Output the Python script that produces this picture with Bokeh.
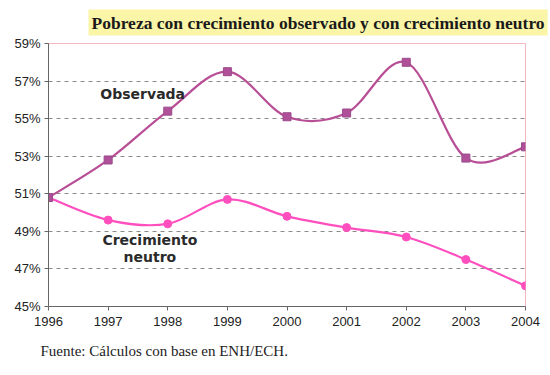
from bokeh.plotting import figure
from bokeh.models import (FixedTicker, PrintfTickFormatter, Range1d, Label, Title,
                          ColumnDataSource)
from bokeh.embed import file_html
from bokeh.resources import INLINE

years = [1996, 1997, 1998, 1999, 2000, 2001, 2002, 2003, 2004]
observada = [50.8, 52.8, 55.4, 57.5, 55.1, 55.3, 58.0, 52.9, 53.5]
neutro = [50.8, 49.6, 49.4, 50.7, 49.8, 49.2, 48.7, 47.5, 46.1]
y_ticks = [45, 47, 49, 51, 53, 55, 57, 59]

TITLE = "Pobreza con crecimiento observado y con crecimiento neutro"
SOURCE = "Fuente: Cálculos con base en ENH/ECH."

C_OBS = "#B84F96"
C_NEU = "#FF4FBF"


def smooth_segments(xs, ys):
    """Bezier control points for a smoothed line through the given points."""
    n = len(xs)
    x0, y0, x1, y1, cx0, cy0, cx1, cy1 = ([] for _ in range(8))
    for i in range(n - 1):
        xm, ym = (xs[i - 1], ys[i - 1]) if i > 0 else (xs[i], ys[i])
        xp, yp = (xs[i + 2], ys[i + 2]) if i + 2 < n else (xs[i + 1], ys[i + 1])
        x0.append(xs[i]); y0.append(ys[i])
        x1.append(xs[i + 1]); y1.append(ys[i + 1])
        cx0.append(xs[i] + (xs[i + 1] - xm) / 6.0)
        cy0.append(ys[i] + (ys[i + 1] - ym) / 6.0)
        cx1.append(xs[i + 1] - (xp - xs[i]) / 6.0)
        cy1.append(ys[i + 1] - (yp - ys[i]) / 6.0)
    return ColumnDataSource(dict(x0=x0, y0=y0, x1=x1, y1=y1,
                                 cx0=cx0, cy0=cy0, cx1=cx1, cy1=cy1))


p = figure(width=550, height=375, output_backend="svg", toolbar_location=None,
           x_range=Range1d(1996, 2004), y_range=Range1d(45, 59),
           min_border_left=48, min_border_right=25, min_border_top=43,
           min_border_bottom=69)

p.title.text = TITLE
p.title.text_font = "Liberation Serif"
p.title.text_font_size = "17.5px"
p.title.text_font_style = "bold"
p.title.text_color = "#1a1a1a"
p.title.align = "left"
p.title.offset = 40
p.title.vertical_align = "top"
p.title.background_fill_color = "#FBF5A8"
p.title.padding = 3
p.title.standoff = 12

cap = Title(text=SOURCE, align="left", text_font="Liberation Serif",
            text_font_size="15px", text_font_style="normal", text_color="#222222",
            offset=-8, standoff=24)
p.add_layout(cap, "below")

p.background_fill_color = "white"
p.border_fill_color = "white"
p.outline_line_color = "#F4B8BE"
p.outline_line_width = 1

# grid
p.xgrid.grid_line_color = None
p.ygrid.ticker = FixedTicker(ticks=y_ticks[1:-1])
p.ygrid.grid_line_color = "#8a8a8a"
p.ygrid.grid_line_dash = "4 4"
p.ygrid.grid_line_width = 1

# axes
p.yaxis.ticker = FixedTicker(ticks=y_ticks)
p.yaxis.formatter = PrintfTickFormatter(format="%d%%")
p.xaxis.ticker = FixedTicker(ticks=years)
for ax in (p.xaxis, p.yaxis):
    ax.axis_line_color = "#666666"
    ax.major_tick_line_color = "#666666"
    ax.minor_tick_line_color = None
    ax.major_tick_in = 0
    ax.major_tick_out = 4
    ax.major_label_text_font = "Liberation Sans"
    ax.major_label_text_font_size = "13px"
    ax.major_label_text_color = "#222222"
p.yaxis.major_label_standoff = 4
p.xaxis.major_label_standoff = 6

# smoothed lines
src_o = smooth_segments(years, observada)
src_n = smooth_segments(years, neutro)
p.bezier(x0="x0", y0="y0", x1="x1", y1="y1", cx0="cx0", cy0="cy0",
         cx1="cx1", cy1="cy1", source=src_n, line_color=C_NEU, line_width=2.2)
p.bezier(x0="x0", y0="y0", x1="x1", y1="y1", cx0="cx0", cy0="cy0",
         cx1="cx1", cy1="cy1", source=src_o, line_color=C_OBS, line_width=2.2)

p.scatter(years, neutro, marker="circle", size=8, fill_color=C_NEU,
          line_color=C_NEU)
p.scatter(years, observada, marker="square", size=8, fill_color="#B05098",
          line_color="#9A4A8A")

lab_kw = dict(text_font="DejaVu Sans", text_font_style="bold",
              text_font_size="14px", text_color="#2a2a2a", text_align="center",
              text_baseline="middle")
p.add_layout(Label(x=1997.58, y=56.3, text="Observada", **lab_kw))
p.add_layout(Label(x=1997.7, y=48.55, text="Crecimiento", **lab_kw))
p.add_layout(Label(x=1997.7, y=47.65, text="neutro", **lab_kw))

open("out.html", "w").write(file_html(p, INLINE))
